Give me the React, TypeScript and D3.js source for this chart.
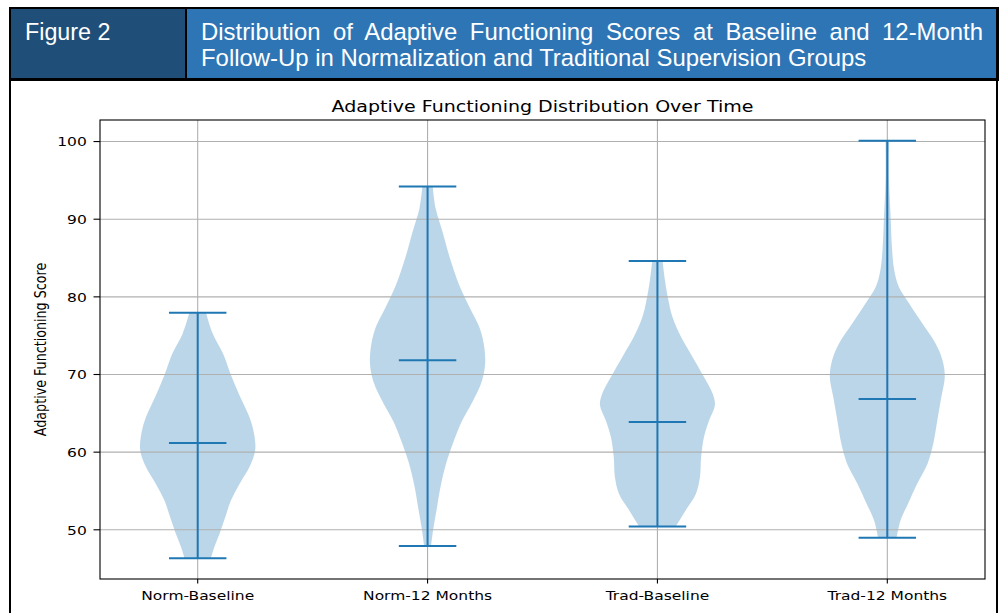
import React, { useEffect, useRef } from "react";
import * as d3 from "d3";

const categories = ["Norm-Baseline", "Norm-12 Months", "Trad-Baseline", "Trad-12 Months"];
const minValues = [46.35, 47.9, 50.44, 48.98];
const maxValues = [77.95, 94.2, 84.62, 100.09];
const centerValues = [61.18, 71.84, 63.89, 66.86];
const yTicks = [50, 60, 70, 80, 90, 100];

// [score, relative half-width of the violin]
const normBaselineDensity: [number, number][] = [
  [77.95, 0.145], [75.29, 0.26], [72.71, 0.44], [69.91, 0.58], [67.11, 0.74],
  [64.53, 0.9], [62.39, 0.98], [60.24, 1.0], [58.08, 0.9], [55.94, 0.73],
  [53.79, 0.58], [51.64, 0.48], [49.49, 0.38], [47.77, 0.29], [46.35, 0.23],
];
const norm12Density: [number, number][] = [
  [94.2, 0.09], [91.42, 0.14], [88.4, 0.26], [84.97, 0.39], [81.52, 0.55],
  [78.51, 0.74], [75.94, 0.91], [73.36, 0.99], [71.2, 1.0], [69.05, 0.94],
  [66.47, 0.78], [63.89, 0.59], [61.31, 0.45], [58.73, 0.33], [55.72, 0.23],
  [52.72, 0.16], [50.14, 0.1], [47.9, 0.06],
];
const tradBaselineDensity: [number, number][] = [
  [84.62, 0.09], [82.17, 0.13], [79.59, 0.19], [77.43, 0.26], [74.85, 0.41],
  [72.27, 0.61], [69.69, 0.81], [67.55, 0.96], [66.04, 1.0], [64.11, 0.9],
  [61.95, 0.81], [59.37, 0.76], [56.79, 0.74], [54.65, 0.67], [52.5, 0.49],
  [50.44, 0.32],
];
const trad12Density: [number, number][] = [
  [100.09, 0.03], [95.06, 0.03], [89.9, 0.06], [86.46, 0.08], [83.46, 0.12],
  [81.3, 0.2], [79.16, 0.38], [76.58, 0.61], [74.0, 0.84], [71.85, 0.96],
  [69.69, 1.0], [67.11, 0.94], [64.11, 0.87], [61.1, 0.8], [58.52, 0.7],
  [55.94, 0.52], [53.36, 0.36], [51.21, 0.23], [48.98, 0.16],
];
const densities = [normBaselineDensity, norm12Density, tradBaselineDensity, trad12Density];

const figureLabel = "Figure 2";
const headerLine1 = "Distribution of Adaptive Functioning Scores at Baseline and 12-Month";
const headerLine2 = "Follow-Up in Normalization and Traditional Supervision Groups";
const chartTitle = "Adaptive Functioning Distribution Over Time";
const yAxisLabel = "Adaptive Functioning Score";

const SX = 1.22; // horizontal stretch of the chart image
const BLUE = "#1f77b4";
const FONT = "'DejaVu Sans', sans-serif";
const HFONT = "'Liberation Sans', Arial, sans-serif";

function SText(props: {
  x: number; y: number; size: number; anchor?: string; rotate?: boolean; children: React.ReactNode;
}) {
  const { x, y, size, anchor = "start", rotate = false, children } = props;
  return (
    <text
      transform={`translate(${x},${y}) scale(${SX},1)${rotate ? " rotate(-90)" : ""}`}
      fontSize={size}
      fontFamily={FONT}
      textAnchor={anchor}
      fill="#000"
    >
      {children}
    </text>
  );
}

export default function App() {
  const line1Ref = useRef<SVGTextElement>(null);

  useEffect(() => {
    const el = line1Ref.current;
    if (!el) return;
    el.setAttribute("word-spacing", "0");
    const w = el.getComputedTextLength();
    const spaces = (headerLine1.match(/ /g) || []).length;
    const target = 983 - 201;
    el.setAttribute("word-spacing", String(Math.max(0, (target - w) / spaces)));
  }, []);

  const positions = categories.map((_, i) => i + 1);
  const half = 0.25;
  const xLo = d3.min(positions)! - half;
  const xHi = d3.max(positions)! + half;
  const xm = (xHi - xLo) * 0.05;
  const yLo = d3.min(minValues)!;
  const yHi = d3.max(maxValues)!;
  const ym = (yHi - yLo) * 0.05;

  const left = 100, right = 985, top = 120, bottom = 579;
  const x = d3.scaleLinear().domain([xLo - xm, xHi + xm]).range([left, right]);
  const y = d3.scaleLinear().domain([yLo - ym, yHi + ym]).range([bottom, top]);

  return (
    <svg
      width={1002}
      height={613}
      style={{ position: "absolute", left: 0, top: 0, background: "#fff" }}
    >
      <rect x={0} y={0} width={1002} height={613} fill="#fff" />
      {/* header */}
      <rect x={9} y={7} width={990} height={74} fill="#000" />
      <rect x={11} y={9} width={174} height={69} fill="#1f4e79" />
      <rect x={187} y={9} width={809} height={69} fill="#2e75b6" />
      <text x={25} y={39.5} fontSize={23.3} fontFamily={HFONT} fill="#fff">
        {figureLabel}
      </text>
      <text ref={line1Ref} x={201} y={39.5} fontSize={23.9} fontFamily={HFONT} fill="#fff">
        {headerLine1}
      </text>
      <text x={201} y={65.5} fontSize={23.9} fontFamily={HFONT} fill="#fff">
        {headerLine2}
      </text>
      {/* outer frame sides */}
      <rect x={9} y={80} width={2} height={533} fill="#000" />
      <rect x={996} y={80} width={2} height={533} fill="#000" />

      {/* violins */}
      {densities.map((pts, i) => {
        const pos = positions[i];
        const area = d3
          .area<[number, number]>()
          .y((d) => y(d[0]))
          .x0((d) => x(pos - d[1] * half))
          .x1((d) => x(pos + d[1] * half))
          .curve(d3.curveCatmullRom);
        return <path key={i} d={area(pts) || ""} fill={BLUE} fillOpacity={0.3} stroke="none" />;
      })}

      {/* grid */}
      {yTicks.map((t) => (
        <line key={"gy" + t} x1={left} x2={right} y1={y(t)} y2={y(t)} stroke="#b0b0b0" strokeWidth={1.1} />
      ))}
      {positions.map((p) => (
        <line key={"gx" + p} x1={x(p)} x2={x(p)} y1={top} y2={bottom} stroke="#b0b0b0" strokeWidth={1.1} />
      ))}

      {/* violin lines */}
      {positions.map((p, i) => {
        const xl = x(p - half * 0.5);
        const xr = x(p + half * 0.5);
        return (
          <g key={"l" + i} stroke={BLUE} strokeWidth={2}>
            <line x1={x(p)} x2={x(p)} y1={y(minValues[i])} y2={y(maxValues[i])} />
            <line x1={xl} x2={xr} y1={y(minValues[i])} y2={y(minValues[i])} />
            <line x1={xl} x2={xr} y1={y(maxValues[i])} y2={y(maxValues[i])} />
            <line x1={xl} x2={xr} y1={y(centerValues[i])} y2={y(centerValues[i])} />
          </g>
        );
      })}

      {/* axes frame */}
      <rect x={left} y={top} width={right - left} height={bottom - top} fill="none" stroke="#000" strokeWidth={1.1} />

      {/* y ticks */}
      {yTicks.map((t) => (
        <g key={"yt" + t}>
          <line x1={left - 6.5} x2={left} y1={y(t)} y2={y(t)} stroke="#000" strokeWidth={1.1} />
          <SText x={left - 13.2} y={y(t) + 4.8} size={12.7} anchor="end">
            {String(t)}
          </SText>
        </g>
      ))}
      {/* x ticks */}
      {positions.map((p, i) => (
        <g key={"xt" + p}>
          <line x1={x(p)} x2={x(p)} y1={bottom} y2={bottom + 4.5} stroke="#000" strokeWidth={1.1} />
          <SText x={x(p)} y={599.5} size={12.7} anchor="middle">
            {categories[i]}
          </SText>
        </g>
      ))}

      {/* title and y label */}
      <SText x={(left + right) / 2} y={112} size={15.6} anchor="middle">
        {chartTitle}
      </SText>
      <SText x={46} y={(top + bottom) / 2} size={12.7} anchor="middle" rotate>
        {yAxisLabel}
      </SText>
    </svg>
  );
}
